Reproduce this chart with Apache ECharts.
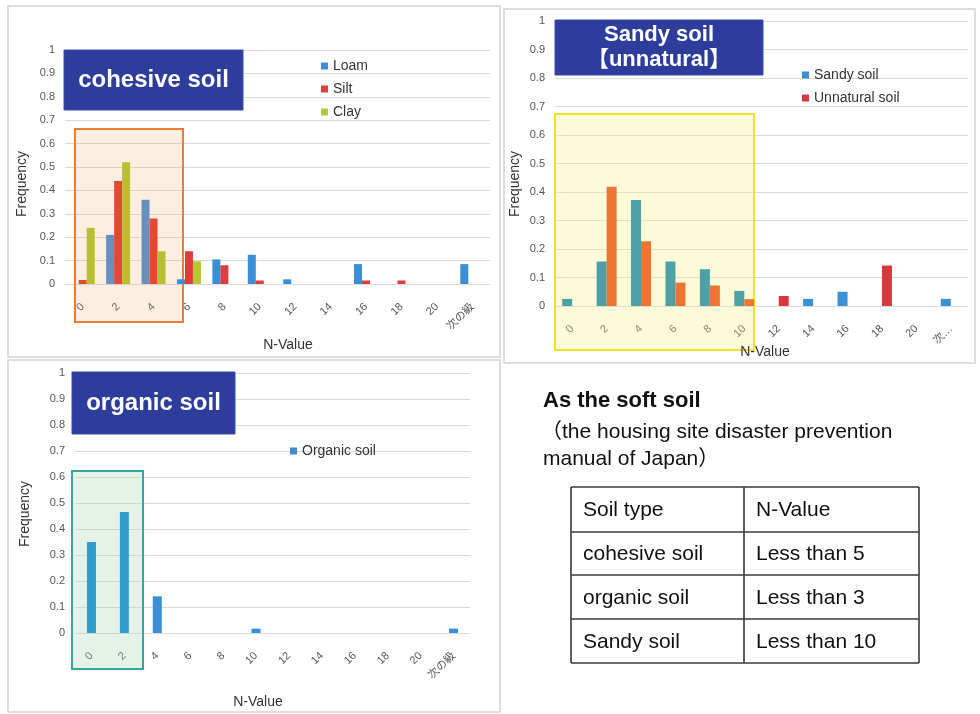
<!DOCTYPE html>
<html>
<head>
<meta charset="utf-8">
<script src="https://cdn.jsdelivr.net/npm/echarts@6/dist/echarts.min.js"></script>
<style>
  html, body { margin: 0; padding: 0; background: #ffffff; }
  #chart { width: 980px; height: 714px; }
</style>
</head>
<body>
<div id="chart"></div>
<script>
// N-value bins (histogram class labels)
const categories = ['0', '2', '4', '6', '8', '10', '12', '14', '16', '18', '20', '次の級'];
const sandyCategories = ['0', '2', '4', '6', '8', '10', '12', '14', '16', '18', '20', '次…'];

// Cohesive soil frequencies
const loam = [0, 0.21, 0.36, 0.02, 0.105, 0.125, 0.02, 0, 0.085, 0, 0, 0.085];
const silt = [0.017, 0.44, 0.28, 0.14, 0.08, 0.015, 0, 0, 0.015, 0.015, 0, 0];
const clay = [0.24, 0.52, 0.14, 0.097, 0, 0, 0, 0, 0, 0, 0, 0];

// Sandy / unnatural soil frequencies
const sandySoil = [0.025, 0.156, 0.372, 0.156, 0.129, 0.053, 0, 0.025, 0.05, 0, 0, 0.025];
const unnaturalSoil = [0, 0.418, 0.227, 0.082, 0.072, 0.024, 0.035, 0, 0, 0.142, 0, 0];

// Organic soil frequencies
const organicSoil = [0.35, 0.465, 0.141, 0, 0, 0.017, 0, 0, 0, 0, 0, 0.017];

// Soft-soil criteria table
const tableHeader = ['Soil type', 'N-Value'];
const tableRows = [
  ['cohesive soil', 'Less than 5'],
  ['organic soil', 'Less than 3'],
  ['Sandy soil', 'Less than 10']
];

const FONT = '"Liberation Sans", Arial, "Noto Sans CJK JP", sans-serif';
const chart = echarts.init(document.getElementById('chart'));

// series colours: [inside highlighted band, outside]
const COLORS = {
  'Loam': ['#6890bf', '#3a8fd6'],
  'Silt': ['#e6472f', '#e03c3c'],
  'Clay': ['#b8bf30', '#b6c835'],
  'Sandy soil': ['#4e9fa6', '#3a91d6'],
  'Unnatural soil': ['#ee7432', '#d9383e'],
  'Organic soil': ['#2f9dcf', '#3a8fd8']
};

// bars inside a highlighted band take the tinted colour
function banded(name, limit) {
  return p => (p.dataIndex <= limit ? COLORS[name][0] : COLORS[name][1]);
}

function xAxisFor(gridIndex, data) {
  return {
    type: 'category', gridIndex, data,
    axisLine: { show: false }, axisTick: { show: false },
    axisLabel: { rotate: 45, margin: 21, fontSize: 11, color: '#555', fontFamily: FONT }
  };
}
function yAxisFor(gridIndex) {
  return {
    type: 'value', gridIndex, min: 0, max: 1, interval: 0.1,
    axisLine: { show: false }, axisTick: { show: false },
    axisLabel: { fontSize: 11, color: '#555', margin: 10, fontFamily: FONT },
    splitLine: { lineStyle: { color: '#d9d9d9', width: 1 } }
  };
}
function legendFor(left, top, names) {
  return {
    orient: 'vertical', left, top,
    data: names.map(n => ({ name: n, itemStyle: { color: COLORS[n][1] } })),
    icon: 'rect', itemWidth: 7, itemHeight: 7, itemGap: 7,
    textStyle: { fontSize: 14, color: '#333', fontFamily: FONT, lineHeight: 16 },
    selectedMode: false
  };
}

const graphics = [];

// panel frames
[[8, 6, 492, 351], [504, 9, 471, 354], [8, 360, 492, 352]].forEach(r => {
  graphics.push({
    type: 'rect', z: -10,
    shape: { x: r[0], y: r[1], width: r[2], height: r[3] },
    style: { fill: '#fff', stroke: '#d4d4d4', lineWidth: 1.5 }
  });
});

// highlight bands marking the soft-soil N ranges
[
  { r: [75, 129, 108, 193], stroke: '#ef7d2e', fill: 'rgba(244,170,110,0.20)' },
  { r: [555, 114, 199, 236], stroke: '#f2e22a', fill: 'rgba(250,240,140,0.32)' },
  { r: [72, 471, 71, 198], stroke: '#34a6a2', fill: 'rgba(170,215,185,0.32)' }
].forEach(b => {
  graphics.push({
    type: 'rect', z: 1,
    shape: { x: b.r[0], y: b.r[1], width: b.r[2], height: b.r[3] },
    style: { fill: b.fill, stroke: b.stroke, lineWidth: 2 }
  });
});

// title boxes
function titleBox(x, y, w, h, lines, size) {
  graphics.push({
    type: 'rect', z: 20,
    shape: { x, y, width: w, height: h },
    style: { fill: '#2e3d9c', stroke: '#3d4ca8', lineWidth: 1 }
  });
  const step = h / lines.length;
  lines.forEach((t, i) => {
    graphics.push({
      type: 'text', z: 21,
      x: x + w / 2, y: y + step * (i + 0.5) + (lines.length > 1 ? (i === 0 ? 1 : -1) : 0),
      style: {
        text: t, fill: '#fff', font: 'bold ' + size + 'px ' + FONT,
        textAlign: 'center', textVerticalAlign: 'middle'
      }
    });
  });
}
titleBox(64, 50, 179, 60, ['cohesive soil'], 24);
titleBox(555, 20, 208, 55, ['Sandy soil', '【unnatural】'], 22);
titleBox(72, 372, 163, 62, ['organic soil'], 24);

// axis titles
function label(text, x, y, size, rot) {
  graphics.push({
    type: 'text', z: 15, x, y, rotation: rot || 0,
    style: { text, fill: '#333', font: size + 'px ' + FONT, textAlign: 'center', textVerticalAlign: 'middle' }
  });
}
label('Frequency', 22, 184, 14, Math.PI / 2);
label('Frequency', 515, 184, 14, Math.PI / 2);
label('Frequency', 25, 514, 14, Math.PI / 2);
label('N-Value', 288, 345, 14);
label('N-Value', 765, 352, 14);
label('N-Value', 258, 702, 14);

// criteria text block
function leftText(text, x, y, font) {
  graphics.push({
    type: 'text', z: 15, x, y,
    style: { text, fill: '#111', font, textAlign: 'left', textVerticalAlign: 'middle' }
  });
}
leftText('As the soft soil', 543, 401, 'bold 22px ' + FONT);
leftText('（the housing site disaster prevention', 541, 432, '21px ' + FONT);
leftText('manual of Japan）', 543, 459, '21px ' + FONT);

// criteria table
const colX = [571, 744, 919];
const rowY = [487, 532, 575, 619, 663];
const tLine = (x1, y1, x2, y2) => graphics.push({
  type: 'line', z: 15, shape: { x1, y1, x2, y2 }, style: { stroke: '#3a3a3a', lineWidth: 1.6 }
});
rowY.forEach(y => tLine(colX[0], y, colX[2], y));
colX.forEach(x => tLine(x, rowY[0], x, rowY[rowY.length - 1]));
[tableHeader].concat(tableRows).forEach((row, i) => {
  row.forEach((cell, j) => {
    leftText(cell, colX[j] + 12, (rowY[i] + rowY[i + 1]) / 2 + 1, '21px ' + FONT);
  });
});

chart.setOption({
  animation: false,
  backgroundColor: '#ffffff',
  textStyle: { fontFamily: FONT },
  grid: [
    { left: 65, top: 50, width: 425, height: 234 },
    { left: 555, top: 21, width: 413, height: 285 },
    { left: 75, top: 373, width: 395, height: 260 }
  ],
  xAxis: [xAxisFor(0, categories), xAxisFor(1, sandyCategories), xAxisFor(2, categories)],
  yAxis: [yAxisFor(0), yAxisFor(1), yAxisFor(2)],
  legend: [
    legendFor(316, 53, ['Loam', 'Silt', 'Clay']),
    legendFor(797, 62, ['Sandy soil', 'Unnatural soil']),
    legendFor(285, 438, ['Organic soil'])
  ],
  series: [
    { name: 'Loam', type: 'bar', xAxisIndex: 0, yAxisIndex: 0, data: loam, barWidth: 8, barGap: '0%',
      itemStyle: { color: banded('Loam', 2) } },
    { name: 'Silt', type: 'bar', xAxisIndex: 0, yAxisIndex: 0, data: silt, barWidth: 8, barGap: '0%',
      itemStyle: { color: banded('Silt', 2) } },
    { name: 'Clay', type: 'bar', xAxisIndex: 0, yAxisIndex: 0, data: clay, barWidth: 8, barGap: '0%',
      itemStyle: { color: banded('Clay', 2) } },
    { name: 'Sandy soil', type: 'bar', xAxisIndex: 1, yAxisIndex: 1, data: sandySoil, barWidth: 10, barGap: '0%',
      itemStyle: { color: banded('Sandy soil', 5) } },
    { name: 'Unnatural soil', type: 'bar', xAxisIndex: 1, yAxisIndex: 1, data: unnaturalSoil, barWidth: 10, barGap: '0%',
      itemStyle: { color: banded('Unnatural soil', 5) } },
    { name: 'Organic soil', type: 'bar', xAxisIndex: 2, yAxisIndex: 2, data: organicSoil, barWidth: 9,
      itemStyle: { color: banded('Organic soil', 1) } }
  ],
  graphic: { elements: graphics }
});
</script>
</body>
</html>
